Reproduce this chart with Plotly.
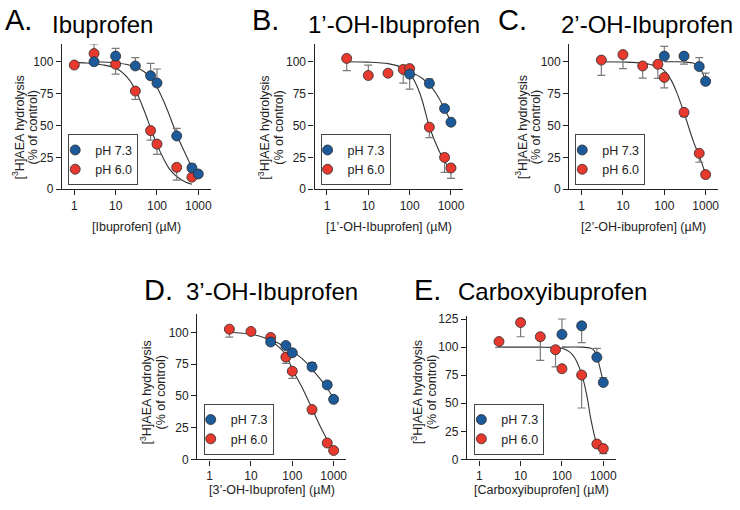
import plotly.graph_objects as go

# ---------------- data ----------------
# Panel A: Ibuprofen
A73_x = [3, 10, 30, 70, 100, 300, 700, 1000]
A73_y = [100, 104.4, 96.7, 89, 83.3, 41.8, 16.7, 12]
A73_ep = [0, 6, 6.6, 9.7, 11, 6, 3, 2]
A73_em = [0, 0, 0, 0, 0, 0, 0, 0]
A60_x = [1, 3, 10, 30, 70, 100, 300, 700]
A60_y = [97.4, 106.4, 98, 77, 46, 35.4, 17.2, 9.5]
A60_ep = [0, 7.6, 0, 0, 0, 0, 0, 0]
A60_em = [0, 0, 7.7, 6.5, 7.5, 8, 10, 1.5]
A73_cx = [3, 10, 30, 50, 70, 100, 150, 200, 300, 500, 700, 1000]
A73_cy = [100, 99.2, 96, 92, 87.5, 80, 68, 58, 43, 27, 17.6, 11]
A60_cx = [1, 2, 5, 10, 20, 30, 50, 70, 100, 150, 200, 300, 500, 700]
A60_cy = [99.5, 99, 97.5, 95, 87, 78, 61, 48, 35, 23, 16, 10, 5.5, 4]

# Panel B: 1'-OH-Ibuprofen
B73_x = [100, 300, 700, 1000]
B73_y = [90.3, 83, 63.3, 52.6]
B73_ep = [0, 3.5, 0, 0]
B73_em = [0, 0, 0, 0]
B60_x = [3, 10, 30, 70, 100, 300, 700, 1000]
B60_y = [102.6, 89.2, 91, 94, 94.6, 48.7, 25, 16.7]
B60_ep = [0, 8.2, 0, 0, 0, 0, 0, 0]
B60_em = [9.6, 0, 1, 10.7, 16, 8.2, 11.7, 8.2]
B73_cx = [100, 150, 200, 300, 500, 700, 1000]
B73_cy = [92, 89.5, 87, 82, 72, 63, 53]
B60_cx = [3, 10, 30, 70, 100, 150, 200, 300, 500, 700, 1000]
B60_cy = [100, 99.7, 98.5, 95, 91, 81, 70, 49, 31, 22, 15]

# Panel C: 2'-OH-Ibuprofen
C73_x = [100, 300, 700, 1000]
C73_y = [104.4, 104.4, 96.2, 84.6]
C73_ep = [7.6, 0, 7, 6.4]
C73_em = [0, 6.2, 0, 0]
C60_x = [3, 10, 30, 70, 100, 300, 700, 1000]
C60_y = [101.3, 105.6, 96.7, 98, 87.7, 60.3, 28.2, 11.5]
C60_ep = [0, 0, 0, 0, 0, 0, 0, 0]
C60_em = [12, 11, 9.5, 11, 8.2, 3.3, 7, 0]
C73_cx = [100, 200, 300, 500, 700, 850, 1000]
C73_cy = [100, 100, 99.8, 99, 96, 91, 85]
C60_cx = [3, 10, 30, 70, 100, 150, 200, 300, 500, 700, 1000]
C60_cy = [100, 99.8, 99, 96, 93, 85, 76, 60, 38, 26, 12]

# Panel D: 3'-OH-Ibuprofen
D73_x = [30, 70, 100, 300, 700, 1000]
D73_y = [92.5, 89.7, 84, 72.9, 58.7, 47.3]
D73_ep = [0, 0, 0, 3.3, 0, 0]
D73_em = [0, 0, 0, 0, 0, 0]
D60_x = [3, 10, 30, 70, 100, 300, 700, 1000]
D60_y = [102.6, 100.8, 96.1, 80.6, 69.5, 39.3, 12.9, 7]
D60_ep = [0, 0, 0, 0, 0, 0, 0, 0]
D60_em = [6.2, 0, 0, 5, 5.7, 3.3, 0, 0]
D73_cx = [30, 50, 70, 100, 200, 300, 500, 700, 1000]
D73_cy = [94, 91, 88.5, 85.3, 77.5, 71, 62.5, 56, 48]
D60_cx = [3, 10, 30, 70, 100, 180, 300, 500, 700, 1000]
D60_cy = [100, 98.7, 93.5, 82.5, 71, 55.5, 40, 24.5, 15.5, 7]

# Panel E: Carboxyibuprofen
E73_x = [100, 300, 700, 1000]
E73_y = [111.4, 119, 91, 68.5]
E73_ep = [13.7, 0, 8, 4.4]
E73_em = [0, 15, 0, 0]
E60_x = [3, 10, 30, 70, 100, 300, 700, 1000]
E60_y = [105, 121.9, 109.3, 97.7, 80.8, 75.2, 13.7, 9.6]
E60_ep = [0, 0, 0, 0, 0, 0, 0, 0]
E60_em = [5.3, 12.6, 21, 15.2, 0, 29.4, 0, 4.4]
E73_cx = [100, 300, 500, 600, 700, 850, 1000]
E73_cy = [100, 100, 99, 97, 92, 80, 69]
E60_cx = [3, 10, 30, 70, 100, 150, 200, 300, 400, 500, 700, 1000]
E60_cy = [100, 100, 100, 99.8, 99, 96, 91, 76, 57, 36, 14, 6]

LETTERS = ["A.", "B.", "C.", "D.", "E."]
TITLES = ["Ibuprofen", "1\u2019-OH-Ibuprofen", "2\u2019-OH-Ibuprofen",
          "3\u2019-OH-Ibuprofen", "Carboxyibuprofen"]
XTITLES = ["[Ibuprofen] (\u00b5M)", "[1\u2019-OH-Ibuprofen] (\u00b5M)",
           "[2\u2019-OH-ibuprofen] (\u00b5M)", "[3\u2019-OH-Ibuprofen] (\u00b5M)",
           "[Carboxyibuprofen] (\u00b5M)"]
YTITLE1 = "[<sup>3</sup>H]AEA hydrolysis"
YTITLE2 = "(% of control)"
LEGEND_NAMES = ["pH 7.3", "pH 6.0"]
X_TICKS = [1, 10, 100, 1000]
Y_TICKS = [0, 25, 50, 75, 100]
Y_TICKS_E = [0, 25, 50, 75, 100, 125]

# ---------------- styling / layout ----------------
W, H = 740, 510
FONT = "Liberation Sans, Arial, Helvetica, sans-serif"
BLUE = "#1d5a9a"
RED = "#e8392f"
INK = "#222222"
ERR = "#7a7a7a"
CURVE = "#333333"

def px_x(p):
    return p / W

def px_y(p):
    return 1 - p / H

# plot boxes in pixels: (left, right, top, bottom), y range top
panels = [
    dict(box=(62, 211, 41.7, 190), ymax=114, yt=Y_TICKS),
    dict(box=(315, 464, 41.7, 190), ymax=114, yt=Y_TICKS),
    dict(box=(570, 719, 41.7, 190), ymax=114, yt=Y_TICKS),
    dict(box=(197.5, 346.5, 317.3, 465.5), ymax=114.5, yt=Y_TICKS),
    dict(box=(467.5, 616.5, 319, 465.5), ymax=128, yt=Y_TICKS_E),
]
data = [
    (A73_x, A73_y, A73_ep, A73_em, A60_x, A60_y, A60_ep, A60_em, A73_cx, A73_cy, A60_cx, A60_cy),
    (B73_x, B73_y, B73_ep, B73_em, B60_x, B60_y, B60_ep, B60_em, B73_cx, B73_cy, B60_cx, B60_cy),
    (C73_x, C73_y, C73_ep, C73_em, C60_x, C60_y, C60_ep, C60_em, C73_cx, C73_cy, C60_cx, C60_cy),
    (D73_x, D73_y, D73_ep, D73_em, D60_x, D60_y, D60_ep, D60_em, D73_cx, D73_cy, D60_cx, D60_cy),
    (E73_x, E73_y, E73_ep, E73_em, E60_x, E60_y, E60_ep, E60_em, E73_cx, E73_cy, E60_cx, E60_cy),
]
# title positions (px): letter x, title x, letter baseline, title baseline
title_pos = [(3, 50, 27, 30), (250, 306, 27, 30), (497, 560, 27, 30),
             (142, 184, 303, 303), (413, 457, 303, 303)]
# y title line centres (px): line1 x, line2 x, y centre
ytitle_pos = [(18, 33, 127), (263.5, 278.5, 127), (521.5, 536.5, 127),
              (146.5, 161.5, 397), (417.5, 432.5, 397)]
# x title centre y (px)
xtitle_y = [228, 228, 228, 497, 497]
# legend boxes (px): left, bottom
legend_pos = [(68.3, 186), (321, 186), (576, 186), (204, 461), (475, 461)]

fig = go.Figure()
layout = dict(
    width=W, height=H, autosize=False,
    margin=dict(l=0, r=0, t=0, b=0),
    paper_bgcolor="white", plot_bgcolor="white",
    font=dict(family=FONT, color=INK, size=12),
    showlegend=True,
)
annotations = []

for i, (pan, d) in enumerate(zip(panels, data)):
    k = "" if i == 0 else str(i + 1)
    xa, ya = "x" + k, "y" + k
    lg = "legend" + k
    (x73, y73, ep73, em73, x60, y60, ep60, em60, cx73, cy73, cx60, cy60) = d
    # fitted curves
    for cx, cy in ((cx73, cy73), (cx60, cy60)):
        fig.add_trace(go.Scatter(
            x=cx, y=cy, mode="lines", line=dict(color=CURVE, width=1.1, shape="spline", smoothing=0.8),
            xaxis=xa, yaxis=ya, showlegend=False, hoverinfo="skip", cliponaxis=False))
    # points (red first so blue sits on top)
    for (xs, ys, ep, em, col, name) in ((x60, y60, ep60, em60, RED, LEGEND_NAMES[1]),
                                        (x73, y73, ep73, em73, BLUE, LEGEND_NAMES[0])):
        fig.add_trace(go.Scatter(
            x=xs, y=ys, mode="markers", name=name,
            marker=dict(size=10, color=col, line=dict(color="#2b2b2b", width=0.8)),
            error_y=dict(type="data", symmetric=False, array=ep, arrayminus=em,
                         color=ERR, thickness=1.2, width=4),
            xaxis=xa, yaxis=ya, legend=lg, cliponaxis=False))
    l, r, t, b = pan["box"]
    layout["xaxis" + k] = dict(
        type="log", range=[-0.3, 3.3], domain=[px_x(l), px_x(r)], anchor=ya,
        tickvals=X_TICKS, ticktext=[str(v) for v in X_TICKS],
        ticks="outside", ticklen=5, tickwidth=1.3, tickcolor=INK,
        showline=True, linecolor=INK, linewidth=1.3, showgrid=False, zeroline=False,
        tickfont=dict(size=12, color=INK, family=FONT), fixedrange=True)
    layout["yaxis" + k] = dict(
        range=[0, pan["ymax"]], domain=[px_y(b), px_y(t)], anchor=xa,
        tickvals=pan["yt"], ticktext=[str(v) for v in pan["yt"]],
        ticks="outside", ticklen=5, tickwidth=1.3, tickcolor=INK,
        showline=True, linecolor=INK, linewidth=1.3, showgrid=False, zeroline=False,
        tickfont=dict(size=12, color=INK, family=FONT), fixedrange=True)
    lx, lb = legend_pos[i]
    layout[lg] = dict(
        x=px_x(lx), y=px_y(lb), xanchor="left", yanchor="bottom",
        bordercolor="#444444", borderwidth=1, bgcolor="rgba(255,255,255,0)",
        font=dict(size=12.5, color=INK, family=FONT), traceorder="reversed",
        tracegroupgap=0, itemwidth=30, indentation=-14)
    # titles
    lxp, txp, lbase, tbase = title_pos[i]
    annotations.append(dict(
        text=LETTERS[i], x=px_x(lxp), y=px_y(lbase - 0.3465 * 29), xref="paper", yref="paper",
        xanchor="left", yanchor="middle", showarrow=False,
        font=dict(size=29, color="black", family=FONT)))
    annotations.append(dict(
        text=TITLES[i], x=px_x(txp), y=px_y(tbase - 0.3465 * 24), xref="paper", yref="paper",
        xanchor="left", yanchor="middle", showarrow=False,
        font=dict(size=24, color="black", family=FONT)))
    # y title (two lines)
    y1x, y2x, ycen = ytitle_pos[i]
    for txt, xx in ((YTITLE1, y1x), (YTITLE2, y2x)):
        annotations.append(dict(
            text=txt, x=px_x(xx), y=px_y(ycen), xref="paper", yref="paper",
            xanchor="center", yanchor="middle", textangle=-90, showarrow=False,
            font=dict(size=12.5, color=INK, family=FONT)))
    # x title
    annotations.append(dict(
        text=XTITLES[i], x=px_x((l + r) / 2), y=px_y(xtitle_y[i]), xref="paper", yref="paper",
        xanchor="center", yanchor="middle", showarrow=False,
        font=dict(size=12.5, color=INK, family=FONT)))

layout["annotations"] = annotations
fig.update_layout(**layout)

fig.write_html("out.html", config={"displayModeBar": False},
               post_script="document.body.style.margin='0';document.body.style.overflow='hidden';")
